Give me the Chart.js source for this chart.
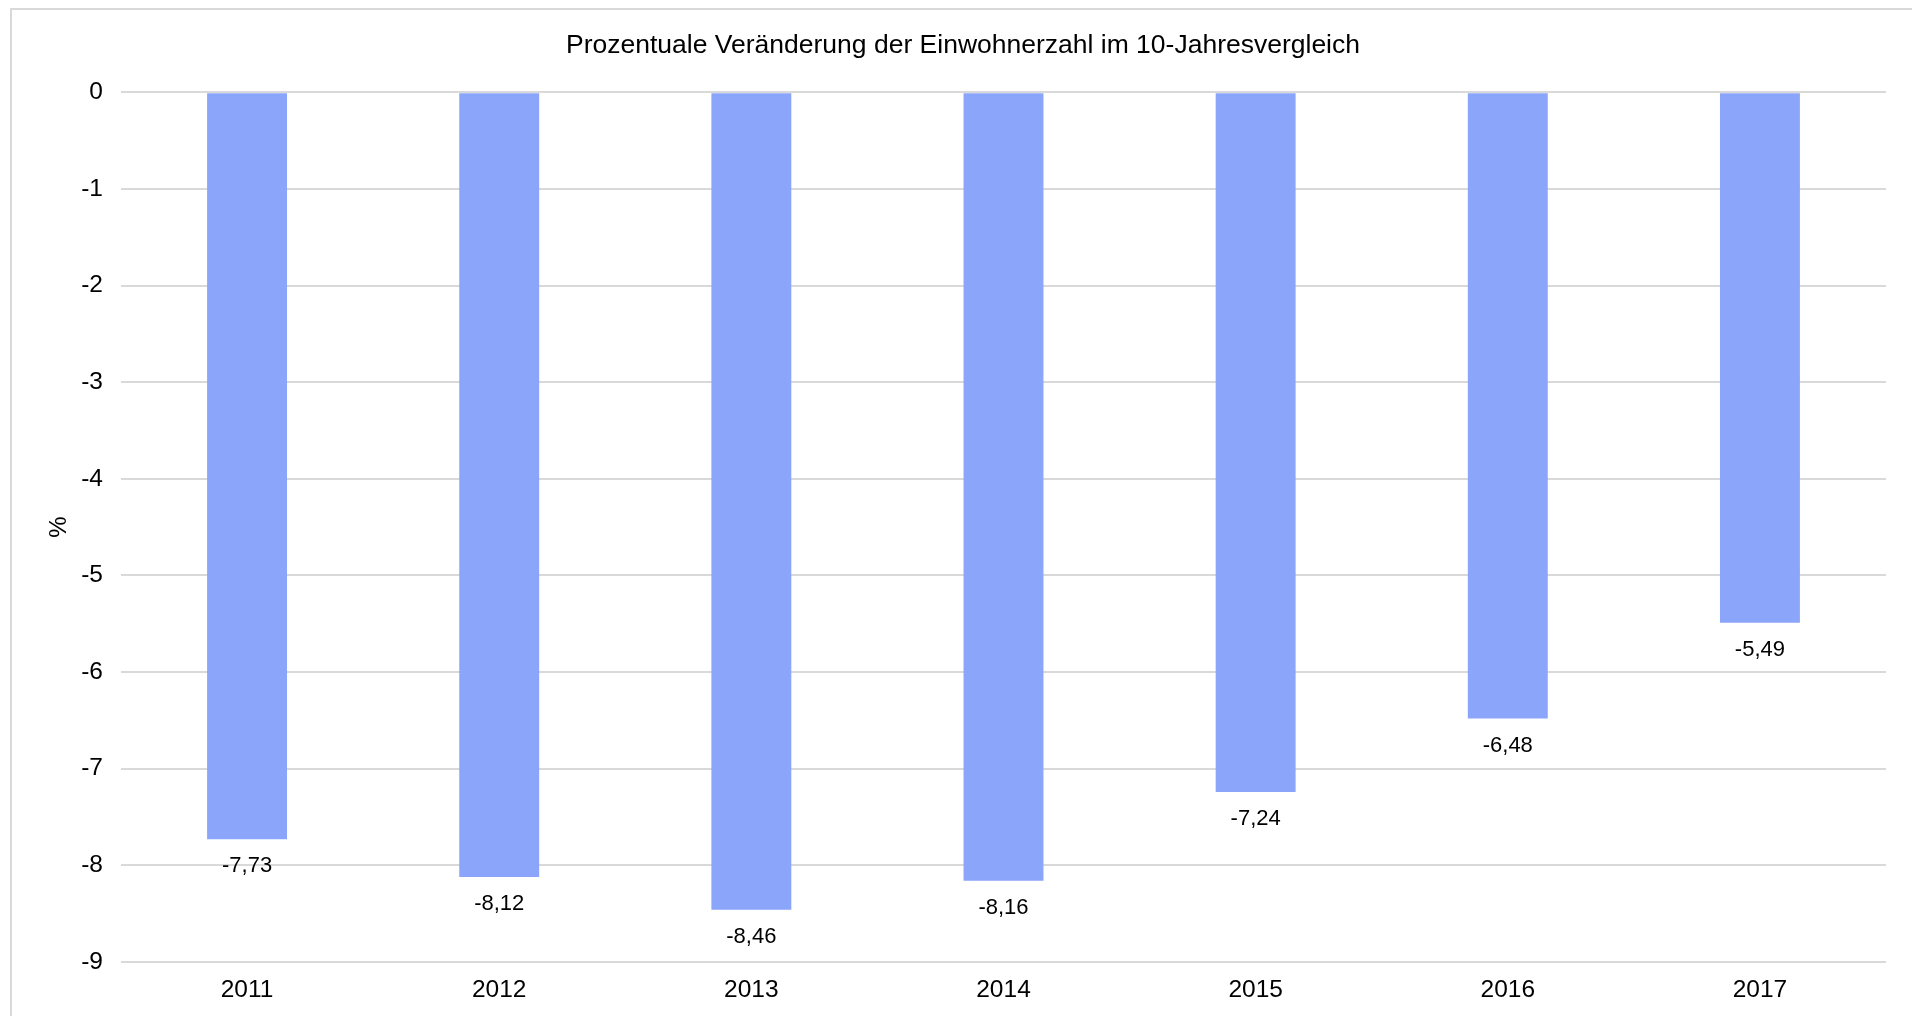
<!DOCTYPE html>
<html>
<head>
<meta charset="utf-8">
<script src="https://cdn.jsdelivr.net/npm/chart.js@4"></script>
<style>
  html, body { margin: 0; padding: 0; background: #fff; overflow: hidden; }
  #frame { position: absolute; left: 10px; top: 8px; width: 1940px; height: 1040px; border: 2px solid #d9d9d9; box-sizing: border-box; }
  #wrap { position: absolute; left: 0; top: 0; width: 1912px; height: 1016px; }
</style>
</head>
<body>
<div id="frame"></div>
<div id="wrap"><canvas id="chart"></canvas></div>
<script>
const years = ["2011", "2012", "2013", "2014", "2015", "2016", "2017"];
const change = [-7.73, -8.12, -8.46, -8.16, -7.24, -6.48, -5.49];
const yTicks = [0, -1, -2, -3, -4, -5, -6, -7, -8, -9];

const font = "'Liberation Sans', Arial, sans-serif";

// value labels under each bar, german decimal comma
const barLabels = {
  id: "barLabels",
  afterDatasetsDraw(chart) {
    const ctx = chart.ctx;
    const meta = chart.getDatasetMeta(0);
    ctx.save();
    ctx.font = "22px " + font;
    ctx.fillStyle = "#000";
    ctx.textAlign = "center";
    ctx.textBaseline = "middle";
    meta.data.forEach((bar, i) => {
      const txt = change[i].toFixed(2).replace(".", ",");
      ctx.fillText(txt, bar.x, bar.y + 27);
    });
    ctx.restore();
  }
};

new Chart(document.getElementById("chart"), {
  type: "bar",
  data: {
    labels: years,
    datasets: [{
      data: change,
      backgroundColor: "#8aa5fa",
      categoryPercentage: 1,
      barPercentage: 0.317
    }]
  },
  plugins: [barLabels],
  options: {
    responsive: true,
    maintainAspectRatio: false,
    animation: false,
    layout: { padding: { left: 40, right: 26, top: 0, bottom: 0 } },
    plugins: {
      legend: { display: false },
      tooltip: { enabled: false },
      title: {
        display: true,
        text: "Prozentuale Veränderung der Einwohnerzahl im 10-Jahresvergleich",
        color: "#000",
        font: { family: font, size: 26.5, weight: "normal" },
        padding: { top: 29.5, bottom: 31 }
      }
    },
    scales: {
      x: {
        afterFit: s => { s.height = 54; },
        grid: { display: false, drawTicks: false },
        border: { display: false },
        ticks: { color: "#000", font: { family: font, size: 24.5 }, padding: 14 }
      },
      y: {
        min: Math.min(...yTicks),
        max: Math.max(...yTicks),
        afterFit: s => { s.width = 81; },
        afterBuildTicks: s => { s.ticks = yTicks.map(v => ({ value: v })); },
        grid: { color: "#d9d9d9", lineWidth: 2, drawTicks: false },
        border: { display: false },
        ticks: { color: "#000", font: { family: font, size: 24.5 }, padding: 18 },
        title: {
          display: true,
          text: "%",
          color: "#000",
          font: { family: font, size: 24 },
          padding: { top: 5, bottom: 0 }
        }
      }
    }
  }
});
</script>
</body>
</html>
